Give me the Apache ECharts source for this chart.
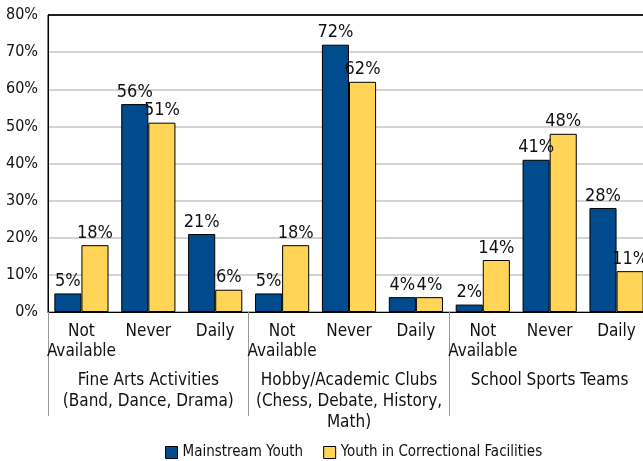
<!DOCTYPE html>
<html>
<head>
<meta charset="utf-8">
<script src="https://cdn.jsdelivr.net/npm/echarts@6/dist/echarts.min.js"></script>
<style>
  html, body { margin: 0; padding: 0; background: #fff; overflow: hidden; }
  #chart { width: 650px; height: 461px; }
</style>
</head>
<body>
<div id="chart"></div>
<script>
  const categories = ['Not\nAvailable', 'Never', 'Daily', 'Not\nAvailable', 'Never', 'Daily', 'Not\nAvailable', 'Never', 'Daily'];
  const groups = ['Fine Arts Activities\n(Band, Dance, Drama)', 'Hobby/Academic Clubs\n(Chess, Debate, History,\nMath)', 'School Sports Teams'];
  const mainstream = [5, 56, 21, 5, 72, 4, 2, 41, 28];
  const correctional = [18, 51, 6, 18, 62, 4, 14, 48, 11];
  const yTicks = [0, 10, 20, 30, 40, 50, 60, 70, 80];

  const font = '"Liberation Sans Narrow", "DejaVu Sans Condensed", sans-serif';
  const chart = echarts.init(document.getElementById('chart'));

  // grey grid lines, the top one (80%) is part of the black frame
  const splitColors = yTicks.map((t, i) => (i === yTicks.length - 1 ? '#000' : '#c4c4c4'));

  const barLabel = {
    show: true,
    position: 'top',
    distance: 3,
    formatter: p => p.value + '%',
    fontFamily: font,
    fontSize: 18,
    color: '#111',
  };

  chart.setOption({
    animation: false,
    textStyle: { fontFamily: font },
    grid: {
      left: 48, right: 0, top: 15, bottom: 149,
      show: true, borderColor: '#000', borderWidth: 1,
    },
    legend: {
      bottom: -4,
      left: 160,
      icon: 'rect',
      itemWidth: 12,
      itemHeight: 12,
      itemGap: 20,
      textStyle: { fontFamily: font, fontSize: 15, color: '#111' },
      data: [
        { name: 'Mainstream Youth', itemStyle: { borderColor: '#000', borderWidth: 1 } },
        { name: 'Youth in Correctional Facilities', itemStyle: { borderColor: '#000', borderWidth: 1 } },
      ],
    },
    xAxis: [
      {
        type: 'category',
        data: categories,
        axisLine: { lineStyle: { color: '#000', width: 1 } },
        axisTick: { show: false },
        axisLabel: {
          interval: 0,
          margin: 10,
          fontFamily: font,
          fontSize: 17,
          lineHeight: 20,
          color: '#111',
        },
      },
      {
        type: 'category',
        data: groups,
        position: 'bottom',
        axisLine: { show: false },
        axisTick: { show: true, length: 104, lineStyle: { color: '#999', width: 1 } },
        axisLabel: {
          interval: 0,
          margin: 58,
          verticalAlign: 'top',
          fontFamily: font,
          fontSize: 17,
          lineHeight: 21,
          color: '#111',
        },
      },
    ],
    yAxis: {
      type: 'value',
      min: yTicks[0],
      max: yTicks[yTicks.length - 1],
      interval: 10,
      axisLine: { show: true, lineStyle: { color: '#000' } },
      axisTick: { show: false },
      axisLabel: {
        formatter: '{value}%',
        margin: 10,
        fontFamily: font,
        fontSize: 16,
        color: '#111',
      },
      splitLine: { lineStyle: { color: splitColors, width: 1.5 } },
    },
    series: [
      {
        name: 'Mainstream Youth',
        type: 'bar',
        data: mainstream,
        barGap: '0%',
        barCategoryGap: '19%',
        itemStyle: { color: '#004b8d', borderColor: '#000', borderWidth: 1 },
        label: barLabel,
      },
      {
        name: 'Youth in Correctional Facilities',
        type: 'bar',
        data: correctional,
        itemStyle: { color: '#ffd457', borderColor: '#000', borderWidth: 1 },
        label: barLabel,
      },
    ],
  });
</script>
</body>
</html>
